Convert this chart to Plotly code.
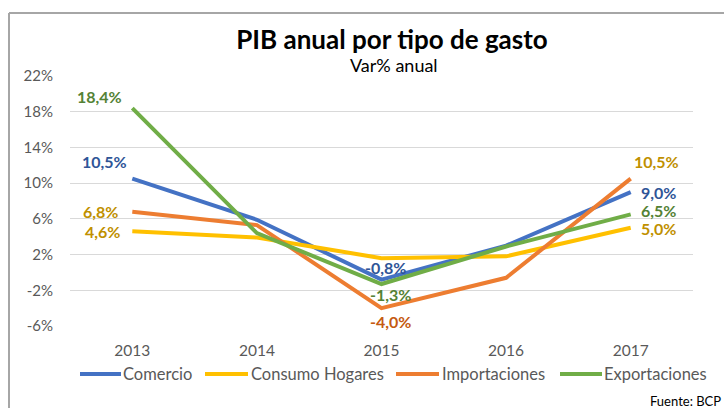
import plotly.graph_objects as go

years = ["2013", "2014", "2015", "2016", "2017"]
comercio = [10.5, 5.9, -0.8, 3.0, 9.0]
consumo = [4.6, 3.9, 1.6, 1.8, 5.0]
importaciones = [6.8, 5.3, -4.0, -0.6, 10.5]
exportaciones = [18.4, 4.4, -1.3, 2.9, 6.5]

y_ticks = [-6, -2, 2, 6, 10, 14, 18, 22]
y_ticktext = ["-6%", "-2%", "2%", "6%", "10%", "14%", "18%", "22%"]

series_names = ["Comercio", "Consumo Hogares", "Importaciones", "Exportaciones"]
series_values = [comercio, consumo, importaciones, exportaciones]
series_colors = ["#4472C4", "#FFC000", "#ED7D31", "#70AD47"]

# labels: (series values, index, color, xshift, yshift)
label_specs = [
    (comercio, 0, "#2F5597", -28, 17),
    (comercio, 2, "#2F5597", 4, 12),
    (comercio, 4, "#2F5597", 28, 0),
    (consumo, 0, "#BF9000", -30, 0),
    (consumo, 4, "#BF9000", 28, -1),
    (importaciones, 0, "#BF9000", -32, 0),
    (importaciones, 2, "#C55A11", 9, -13),
    (importaciones, 4, "#BF9000", 26, 17),
    (exportaciones, 0, "#548235", -33, 12),
    (exportaciones, 2, "#548235", 9, -10),
    (exportaciones, 4, "#548235", 28, 4),
]

# legend layout in pixels: (line start, line end, text start)
legend_px = [(80, 121, 123), (205, 248, 251), (396, 439, 442), (560, 602, 604)]
LEGEND_Y = 374

FONT = "Lato, Open Sans, sans-serif"

L, R, T, B = 70, 31, 76, 82
pw, ph = 724 - L - R, 408 - T - B


def px_to_paper(xp, yp):
    return (xp - L) / pw, (408 - B - yp) / ph


def fmt(v):
    return ("%.1f" % v).replace(".", ",") + "%"


fig = go.Figure()
for name, vals, color in zip(series_names, series_values, series_colors):
    fig.add_trace(go.Scatter(x=years, y=vals, mode="lines", name=name,
                             line=dict(color=color, width=4), showlegend=False))

annotations = []
for vals, i, color, xs, ys in label_specs:
    # category axis: annotation x uses the category serial number
    annotations.append(dict(x=i, y=vals[i], xref="x", yref="y",
                            text="<b>" + fmt(vals[i]) + "</b>", showarrow=False,
                            xshift=xs, yshift=ys,
                            font=dict(family=FONT, size=16, color=color)))

sx, sy = px_to_paper(394, 65)
annotations.append(dict(x=sx, y=sy, xref="paper", yref="paper", yanchor="middle",
                        text="Var% anual", showarrow=False,
                        font=dict(family=FONT, size=18, color="#000000")))
fx, fy = px_to_paper(723, 401)
annotations.append(dict(x=fx, y=fy, xref="paper", yref="paper",
                        text="Fuente: BCP", showarrow=False, xanchor="right", yanchor="middle",
                        font=dict(family=FONT, size=13, color="#000000")))

x0, y0 = px_to_paper(9, 13)
x1, y1 = px_to_paper(730, 420)
shapes = [
    dict(type="line", xref="paper", yref="paper", x0=x0, y0=y0, x1=x1, y1=y0,
         line=dict(color="#A6A6A6", width=2)),
    dict(type="line", xref="paper", yref="paper", x0=x0, y0=y0, x1=x0, y1=y1,
         line=dict(color="#A6A6A6", width=2)),
]

# custom legend
for name, color, (ls, le, ts) in zip(series_names, series_colors, legend_px):
    ax0, ay = px_to_paper(ls, LEGEND_Y)
    ax1, _ = px_to_paper(le, LEGEND_Y)
    shapes.append(dict(type="line", xref="paper", yref="paper", x0=ax0, y0=ay, x1=ax1, y1=ay,
                       line=dict(color=color, width=4)))
    tx, _ = px_to_paper(ts, LEGEND_Y)
    annotations.append(dict(x=tx, y=ay, xref="paper", yref="paper", xanchor="left",
                            yanchor="middle", text=name, showarrow=False, xshift=-2,
                            font=dict(family=FONT, size=16.5, color="#595959")))

fig.update_layout(
    width=724, height=408,
    margin=dict(l=L, r=R, t=T, b=B),
    paper_bgcolor="white", plot_bgcolor="white",
    title=dict(text="<b>PIB anual por tipo de gasto</b>", x=392 / 724, xanchor="center",
               y=1 - 40 / 408, yanchor="middle",
               font=dict(family=FONT, size=26, color="#000000")),
    xaxis=dict(type="category", range=[-0.5, 4.5], showgrid=False, showline=False,
               ticks="", zeroline=False, ticklabelstandoff=13,
               tickfont=dict(family=FONT, size=15.5, color="#595959")),
    yaxis=dict(range=[-6, 22], tickvals=y_ticks, ticktext=y_ticktext,
               showgrid=True, gridcolor="#D9D9D9", gridwidth=1, zeroline=False,
               showline=False, ticks="", ticklabelstandoff=16,
               tickfont=dict(family=FONT, size=15, color="#595959")),
    annotations=annotations,
    shapes=shapes,
    showlegend=False,
)

fig.write_html("out.html", post_script="document.body.style.margin='0';",
               config={"displayModeBar": False})
